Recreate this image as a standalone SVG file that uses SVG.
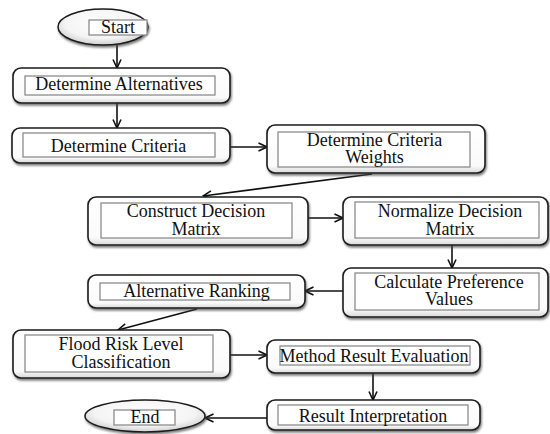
<svg xmlns="http://www.w3.org/2000/svg" width="550" height="434" viewBox="0 0 550 434">
<defs>
  <filter id="sh" x="-10%" y="-10%" width="125%" height="140%">
    <feDropShadow dx="1" dy="2" stdDeviation="1.2" flood-color="#444" flood-opacity="0.7"/>
  </filter>
  <radialGradient id="eg" cx="50%" cy="40%" r="60%">
    <stop offset="0" stop-color="#ffffff"/>
    <stop offset="0.7" stop-color="#f4f4f4"/>
    <stop offset="1" stop-color="#cfcfcf"/>
  </radialGradient>
  <linearGradient id="bg" x1="0" y1="0" x2="0" y2="1">
    <stop offset="0" stop-color="#ffffff"/>
    <stop offset="0.85" stop-color="#fafafa"/>
    <stop offset="1" stop-color="#d8d8d8"/>
  </linearGradient>
  <marker id="ah" viewBox="0 0 10 10" refX="9.5" refY="5" markerWidth="10" markerHeight="10" markerUnits="userSpaceOnUse" orient="auto">
    <polyline points="1,1 9.5,5 1,9" fill="none" stroke="#111" stroke-width="1.6"/>
  </marker>
</defs>
<style>
  .outer{fill:url(#bg);stroke:#1a1a1a;stroke-width:1.6;filter:url(#sh)}
  .inner{fill:#fff;stroke:#8c8c8c;stroke-width:1.3}
  .ell{fill:url(#eg);stroke:#1a1a1a;stroke-width:1.5;filter:url(#sh)}
  .t{font-family:"Liberation Serif","Times New Roman",serif;font-size:18px;fill:#111;text-anchor:middle}
  .c{fill:none;stroke:#111;stroke-width:1.6;marker-end:url(#ah)}
</style>
<rect width="550" height="434" fill="#ffffff"/>

<g id="connectors">
  <line class="c" x1="117" y1="45" x2="117" y2="68"/>
  <line class="c" x1="117" y1="103" x2="117" y2="128"/>
  <line class="c" x1="230" y1="147" x2="267" y2="147"/>
  <line class="c" x1="372" y1="174" x2="203" y2="196"/>
  <line class="c" x1="308" y1="218" x2="343" y2="218"/>
  <line class="c" x1="452" y1="245" x2="452" y2="268"/>
  <line class="c" x1="343" y1="291" x2="305" y2="291"/>
  <line class="c" x1="197" y1="309" x2="118" y2="330"/>
  <line class="c" x1="230" y1="355" x2="267" y2="355"/>
  <line class="c" x1="373" y1="373" x2="373" y2="400"/>
  <line class="c" x1="267" y1="418" x2="205" y2="418"/>
</g>

<g id="start">
  <ellipse class="ell" cx="103" cy="27" rx="45" ry="18"/>
  <rect class="inner" x="89" y="20" width="58" height="15"/>
  <text class="t" x="118" y="33">Start</text>
</g>

<g id="determine-alternatives">
  <rect class="outer" x="13" y="68" width="217" height="35" rx="8"/>
  <rect class="inner" x="25" y="76" width="190" height="19"/>
  <text class="t" x="119" y="90">Determine Alternatives</text>
</g>

<g id="determine-criteria">
  <rect class="outer" x="12" y="128" width="218" height="35" rx="8"/>
  <rect class="inner" x="23" y="133" width="192" height="24"/>
  <text class="t" x="118.5" y="152">Determine Criteria</text>
</g>

<g id="determine-criteria-weights">
  <rect class="outer" x="267" y="125" width="218" height="48" rx="8"/>
  <rect class="inner" x="278" y="132" width="192" height="35"/>
  <text class="t" x="374.5" y="146">Determine Criteria</text>
  <text class="t" x="374.5" y="163">Weights</text>
</g>

<g id="construct-decision-matrix">
  <rect class="outer" x="88" y="197" width="220" height="48" rx="8"/>
  <rect class="inner" x="101" y="203" width="191" height="35"/>
  <text class="t" x="196" y="217">Construct Decision</text>
  <text class="t" x="196" y="235">Matrix</text>
</g>

<g id="normalize-decision-matrix">
  <rect class="outer" x="343" y="197" width="205" height="48" rx="8"/>
  <rect class="inner" x="355" y="202" width="184" height="36"/>
  <text class="t" x="450" y="217">Normalize Decision</text>
  <text class="t" x="450" y="235">Matrix</text>
</g>

<g id="calculate-preference-values">
  <rect class="outer" x="343" y="268" width="205" height="49" rx="8"/>
  <rect class="inner" x="355" y="273" width="184" height="37"/>
  <text class="t" x="449" y="288">Calculate Preference</text>
  <text class="t" x="449" y="305">Values</text>
</g>

<g id="alternative-ranking">
  <rect class="outer" x="88" y="275" width="217" height="33" rx="8"/>
  <rect class="inner" x="100" y="283" width="190" height="17"/>
  <text class="t" x="196.5" y="297">Alternative Ranking</text>
</g>

<g id="flood-risk-level-classification">
  <rect class="outer" x="13" y="330" width="217" height="48" rx="8"/>
  <rect class="inner" x="25" y="335" width="188" height="37"/>
  <text class="t" x="121" y="350">Flood Risk Level</text>
  <text class="t" x="121" y="368">Classification</text>
</g>

<g id="method-result-evaluation">
  <rect class="outer" x="267" y="340" width="213" height="33" rx="8"/>
  <rect class="inner" x="280" y="346" width="190" height="19"/>
  <text class="t" x="374" y="362">Method Result Evaluation</text>
</g>

<g id="result-interpretation">
  <rect class="outer" x="267" y="400" width="213" height="30" rx="8"/>
  <rect class="inner" x="278" y="405" width="190" height="20"/>
  <text class="t" x="373" y="422">Result Interpretation</text>
</g>

<g id="end">
  <ellipse class="ell" cx="145" cy="416" rx="60" ry="16"/>
  <rect class="inner" x="114" y="410" width="61" height="15"/>
  <text class="t" x="145" y="423">End</text>
</g>
</svg>
